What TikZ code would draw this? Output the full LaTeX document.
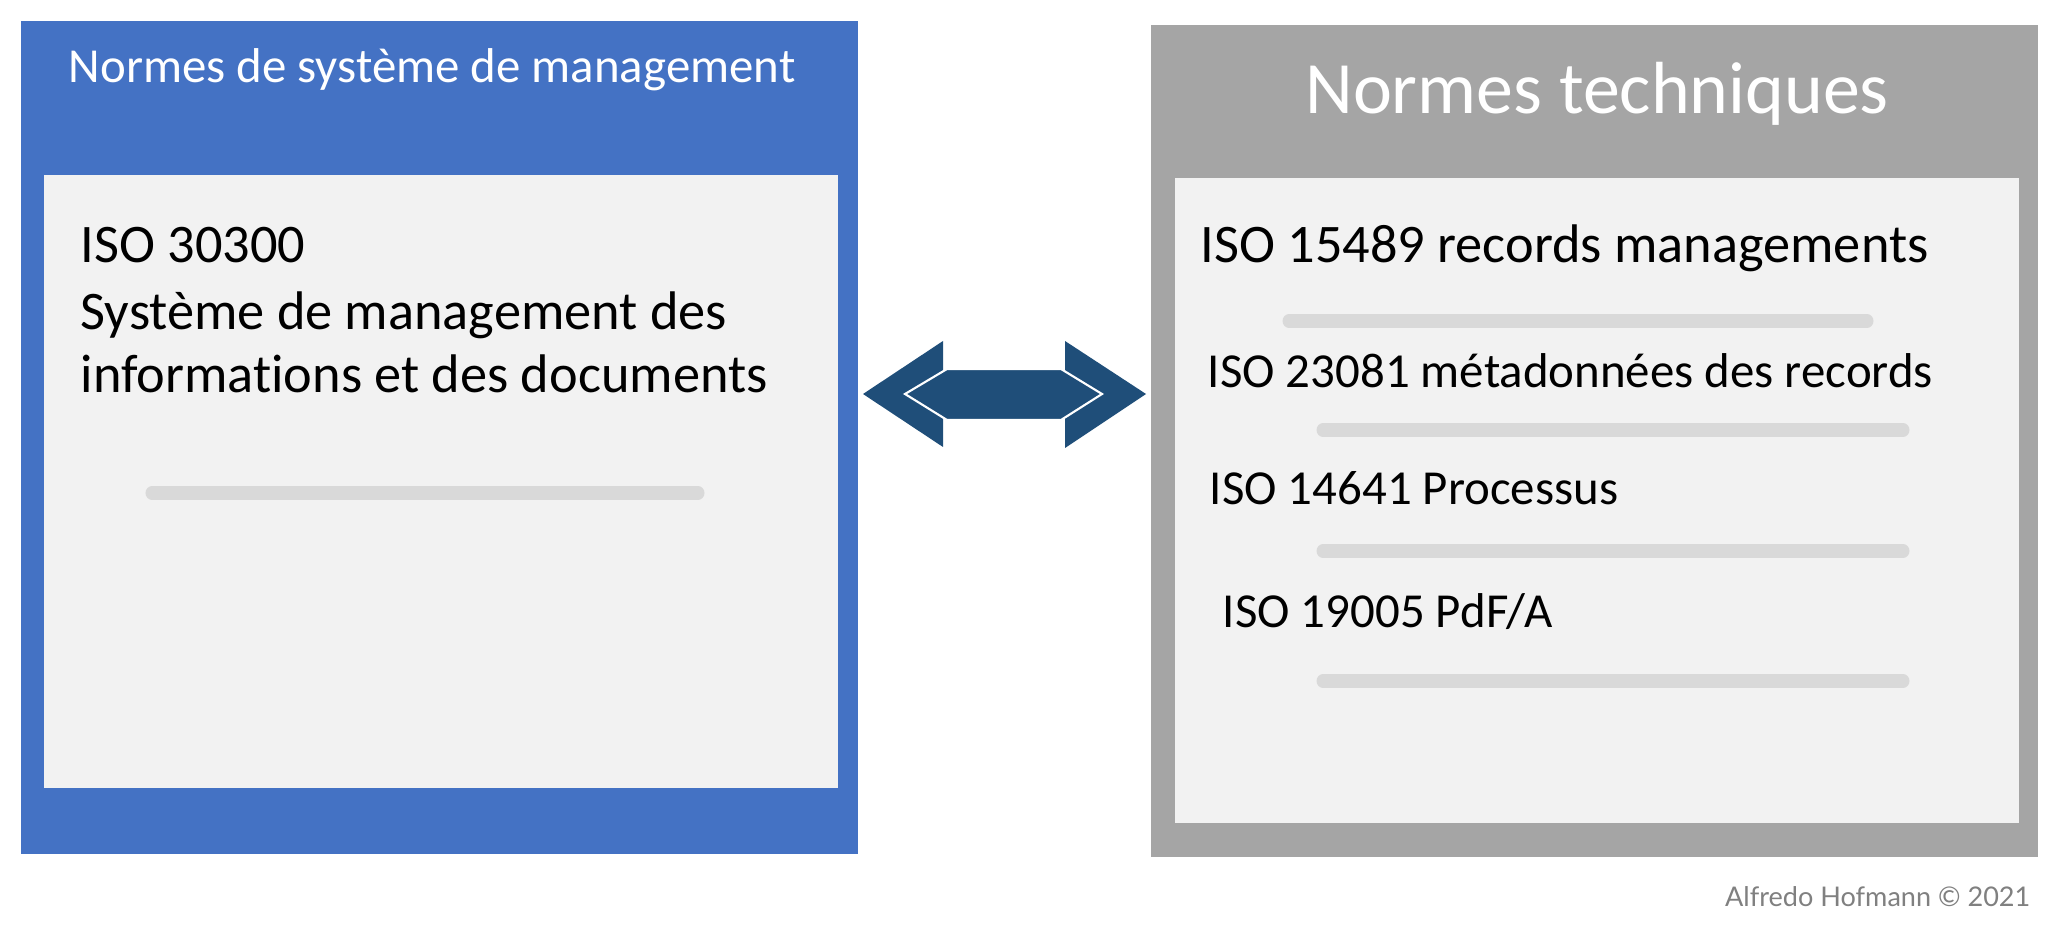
\documentclass[tikz,border=0pt]{standalone}
\usepackage{fontspec}
\setmainfont{Carlito}[Ligatures=NoCommon]
\newfontfamily\latofont{Lato}
\usetikzlibrary{positioning}
\definecolor{mgmtblue}{HTML}{4472C4}
\definecolor{techgrey}{HTML}{A5A5A5}
\definecolor{sheet}{HTML}{F2F2F2}
\definecolor{rule}{HTML}{D9D9D9}
\definecolor{arrowblue}{HTML}{1F4E79}
\definecolor{signgrey}{HTML}{808080}

\begin{document}
\begin{tikzpicture}[
  x=0.01cm,y=-0.01cm,
  panel/.style={rectangle,draw=none,anchor=north west,inner sep=0pt},
  title/.style={anchor=base west,text=white,inner sep=0pt},
  item/.style={anchor=base west,text=black,inner sep=0pt,font=\fontsize{13.9}{17}\selectfont},
  bar/.style={draw=rule,line width=3.7pt,line cap=round}
]
\useasboundingbox (0,0) rectangle (2061,934);
% left panel
\node[panel,fill=mgmtblue,minimum width=8.37cm,minimum height=8.33cm] (mgmt) at (20,20) {};
\node[panel,fill=sheet,minimum width=7.94cm,minimum height=6.13cm] (mgmtsheet) at (43,174) {};
\node[title,font=\fontsize{13.9}{17}\selectfont] (mgmttitle) at (68,83) {Normes de système de management};
\node[item,font=\fontsize{15.45}{19}\selectfont] (iso30300) at (80,263) {ISO 30300};
\node[item,font=\fontsize{15.45}{19}\selectfont] (sys1) at (80,330) {Système de management des};
\node[item,font=\fontsize{15.45}{19}\selectfont] (sys2) at (80,393) {informations et des documents};
\draw[bar] (152,493) -- (698,493);
% right panel
\node[panel,fill=techgrey,minimum width=8.87cm,minimum height=8.32cm] (tech) at (1150,24) {};
\node[panel,fill=sheet,minimum width=8.44cm,minimum height=6.45cm] (techsheet) at (1174,177) {};
\node[title,anchor=base,font=\fontsize{21}{25}\selectfont] (techtitle) at (1597,114) {Normes techniques};
\node[item,font=\fontsize{15.45}{19}\selectfont] (iso15489) at (1200,263) {ISO 15489 records managements};
\node[item] (iso23081) at (1207,388) {ISO 23081 métadonnées des records};
\node[item] (iso14641) at (1209,505) {ISO 14641 Processus};
\node[item] (iso19005) at (1222,628) {ISO 19005 PdF/A};
\draw[bar] (1289,321) -- (1867,321);
\foreach \y in {430,551,681}
  \draw[bar] (1323,\y) -- (1903,\y);
% double arrow
\fill[arrowblue] (863,394) -- (943,341) -- (943,447) -- cycle;
\fill[arrowblue] (1146,394) -- (1065,341) -- (1065,448) -- cycle;
\filldraw[fill=arrowblue,draw=white,line width=0.6pt]
  (905,394) -- (947,369) -- (1061,369) -- (1102,394) -- (1061,420) -- (947,420) -- cycle;
\node[anchor=base east,inner sep=0pt,text=signgrey,font=\latofont\fontsize{7.7}{9}\selectfont] (sign) at (2031,906) {Alfredo Hofmann © 2021};
\end{tikzpicture}
\end{document}
